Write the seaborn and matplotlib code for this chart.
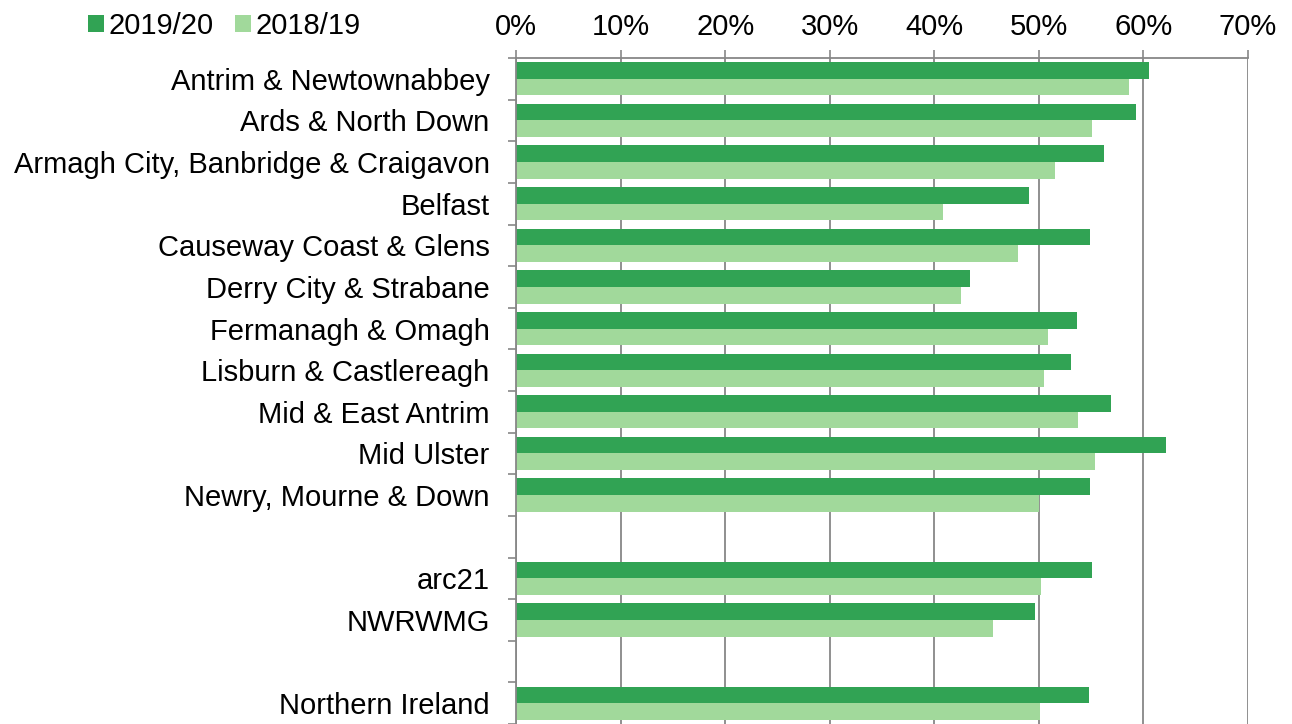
import numpy as np
import pandas as pd
import matplotlib
matplotlib.use("Agg")
import matplotlib.pyplot as plt
from matplotlib.ticker import PercentFormatter, FixedLocator
import seaborn as sns

# data (percent)
areas = ["Antrim & Newtownabbey", "Ards & North Down", "Armagh City, Banbridge & Craigavon",
         "Belfast", "Causeway Coast & Glens", "Derry City & Strabane", "Fermanagh & Omagh",
         "Lisburn & Castlereagh", "Mid & East Antrim", "Mid Ulster", "Newry, Mourne & Down",
         "arc21", "NWRWMG", "Northern Ireland"]
rate_1920 = [60.5, 59.3, 56.2, 49.1, 54.9, 43.4, 53.6, 53.1, 56.9, 62.2, 54.9, 55.1, 49.6, 54.8]
rate_1819 = [58.6, 55.1, 51.5, 40.8, 48.0, 42.6, 50.9, 50.5, 53.7, 55.4, 50.0, 50.2, 45.6, 50.1]
years = ["2019/20", "2018/19"]

# row order with blank spacer rows
order = areas[:11] + [" "] + areas[11:13] + ["  "] + areas[13:]

df = pd.DataFrame({
    "area": areas * 2,
    "year": [years[0]] * len(areas) + [years[1]] * len(areas),
    "rate": rate_1920 + rate_1819,
})

sns.set_theme(style="white")
plt.rcParams["font.family"] = ["Liberation Sans", "DejaVu Sans"]
plt.rcParams["text.color"] = "black"

dark = "#31a354"
light = "#a1d99b"
grey = "#878787"

fig = plt.figure(figsize=(12.92, 7.24), dpi=100)
ax = fig.add_axes([516 / 1292, 0.0, 732 / 1292, 666 / 724])

sns.barplot(data=df, y="area", x="rate", hue="year", order=order, hue_order=years,
            palette=[dark, light], orient="h", width=0.8, saturation=1,
            linewidth=0, ax=ax)

ax.set_xlim(0, 70)
ax.set_ylim(len(order) - 0.5, -0.5)
ax.set_xlabel("")
ax.set_ylabel("")

ax.xaxis.tick_top()
ax.set_xticks(np.arange(0, 71, 10))
ax.xaxis.set_major_formatter(PercentFormatter(100, decimals=0))
ax.tick_params(axis="x", which="major", top=True, bottom=False, length=6, width=1.2,
               color=grey, labelsize=21, pad=6, labelcolor="black")

ax.tick_params(axis="y", which="major", left=False, length=0, labelsize=21,
               pad=19, labelcolor="black")
ax.yaxis.set_minor_locator(FixedLocator(np.arange(-0.5, len(order), 1)))
ax.tick_params(axis="y", which="minor", left=True, length=6, width=1.2, color=grey)

ax.grid(axis="x", color=grey, linewidth=1.3)
ax.set_axisbelow(True)

for side in ["right", "bottom"]:
    ax.spines[side].set_visible(False)
for side in ["top", "left"]:
    ax.spines[side].set_color(grey)
    ax.spines[side].set_linewidth(1.3)

handles, labels = ax.get_legend_handles_labels()
ax.get_legend().remove()
fig.legend(handles, labels, loc="center left", bbox_to_anchor=(88 / 1292, 1 - 26 / 724),
           ncol=2, frameon=False, fontsize=21, handlelength=0.55, handleheight=0.55,
           handletextpad=0.15, columnspacing=0.75, borderaxespad=0, borderpad=0,
           labelcolor="black")

fig.savefig("out.png", dpi=100)
